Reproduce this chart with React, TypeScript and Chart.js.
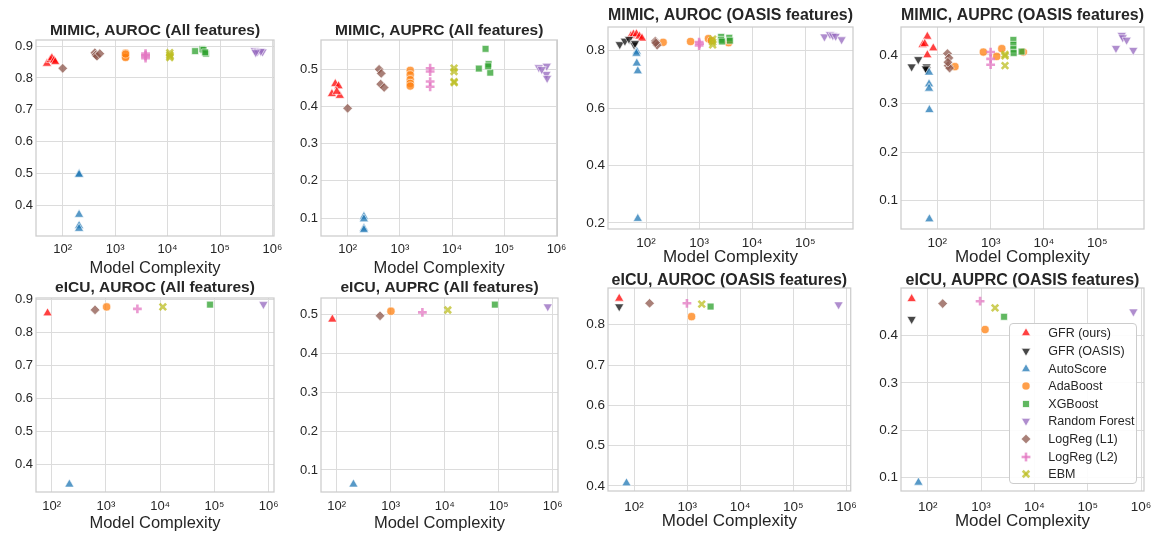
import React, { useEffect, useRef } from 'react';
import { Chart, registerables } from 'chart.js';

Chart.register(...registerables);
Chart.defaults.font.family = '"Liberation Sans", Arial, Helvetica, sans-serif';
Chart.defaults.color = '#262626';

type Pt = [number, number];

// ---------------- categories / tick labels ----------------
const METHODS = ['GFR (ours)', 'GFR (OASIS)', 'AutoScore', 'AdaBoost', 'XGBoost', 'Random Forest', 'LogReg (L1)', 'LogReg (L2)', 'EBM'];
const X_TICKS = [100, 1000, 10000, 100000, 1000000];
const X_TITLE = 'Model Complexity';
const Y_TICKS_P1 = [0.4, 0.5, 0.6, 0.7, 0.8, 0.9];
const Y_TICKS_P2 = [0.1, 0.2, 0.3, 0.4, 0.5];
const Y_TICKS_P3 = [0.2, 0.4, 0.6, 0.8];
const Y_TICKS_P4 = [0.1, 0.2, 0.3, 0.4];
const Y_TICKS_P5 = [0.4, 0.5, 0.6, 0.7, 0.8, 0.9];
const Y_TICKS_P6 = [0.1, 0.2, 0.3, 0.4, 0.5];
const Y_TICKS_P7 = [0.4, 0.5, 0.6, 0.7, 0.8];
const Y_TICKS_P8 = [0.1, 0.2, 0.3, 0.4];

// ---------------- MIMIC, AUROC (All features) ----------------
const P1_GFR: Pt[] = [[50, 0.845], [58, 0.857], [62, 0.862], [68, 0.855], [72, 0.850]];
const P1_AUTO: Pt[] = [[205, 0.500], [205, 0.497], [205, 0.372], [205, 0.337], [205, 0.328]];
const P1_ADA: Pt[] = [[1580, 0.878], [1580, 0.872], [1580, 0.868], [1580, 0.864], [1580, 0.875]];
const P1_XGB: Pt[] = [[33500, 0.884], [46000, 0.890], [48500, 0.888], [54000, 0.876], [52000, 0.880]];
const P1_RF: Pt[] = [[460000, 0.886], [520000, 0.883], [650000, 0.882], [600000, 0.884], [480000, 0.880]];
const P1_L1: Pt[] = [[100, 0.830], [410, 0.879], [430, 0.872], [450, 0.868], [510, 0.876]];
const P1_L2: Pt[] = [[3800, 0.876], [3800, 0.868], [3800, 0.862], [3800, 0.871]];
const P1_EBM: Pt[] = [[11000, 0.879], [11000, 0.872], [11000, 0.864], [11200, 0.868]];

// ---------------- MIMIC, AUPRC (All features) ----------------
const P2_GFR: Pt[] = [[50, 0.434], [58, 0.461], [67, 0.455], [71, 0.429], [62, 0.440]];
const P2_AUTO: Pt[] = [[205, 0.104], [205, 0.097], [205, 0.072], [205, 0.068]];
const P2_ADA: Pt[] = [[1580, 0.497], [1580, 0.485], [1580, 0.472], [1580, 0.462], [1580, 0.455]];
const P2_XGB: Pt[] = [[32500, 0.502], [43700, 0.555], [50000, 0.514], [53800, 0.491], [49000, 0.508]];
const P2_RF: Pt[] = [[458000, 0.505], [650000, 0.509], [640000, 0.487], [660000, 0.476], [520000, 0.500]];
const P2_L1: Pt[] = [[100, 0.395], [400, 0.500], [440, 0.489], [430, 0.460], [500, 0.451]];
const P2_L2: Pt[] = [[3800, 0.503], [3800, 0.494], [3800, 0.467], [3800, 0.453]];
const P2_EBM: Pt[] = [[10900, 0.503], [10900, 0.494], [10900, 0.467], [11000, 0.464]];

// ---------------- MIMIC, AUROC (OASIS features) ----------------
const P3_GFR: Pt[] = [[52, 0.852], [58, 0.857], [66, 0.858], [75, 0.850], [84, 0.843]];
const P3_OASIS: Pt[] = [[32, 0.822], [40, 0.834], [48, 0.840], [60, 0.820], [62, 0.826]];
const P3_AUTO: Pt[] = [[67, 0.797], [66, 0.790], [67, 0.756], [70, 0.729], [70, 0.215]];
const P3_ADA: Pt[] = [[210, 0.829], [690, 0.832], [1500, 0.842], [3600, 0.828], [1700, 0.835]];
const P3_XGB: Pt[] = [[2600, 0.848], [2600, 0.838], [3700, 0.845], [3800, 0.835], [2700, 0.832]];
const P3_RF: Pt[] = [[229000, 0.849], [292000, 0.857], [330000, 0.853], [373000, 0.851], [482000, 0.839]];
const P3_L1: Pt[] = [[150, 0.834], [158, 0.826], [162, 0.819], [152, 0.828]];
const P3_L2: Pt[] = [[1000, 0.830], [1000, 0.818], [1020, 0.824]];
const P3_EBM: Pt[] = [[1800, 0.840], [1800, 0.830], [1800, 0.820]];

// ---------------- MIMIC, AUPRC (OASIS features) ----------------
const P4_GFR: Pt[] = [[65, 0.438], [53, 0.421], [84, 0.414], [65, 0.400], [58, 0.423]];
const P4_OASIS: Pt[] = [[33, 0.376], [44, 0.391], [63, 0.376], [63, 0.370], [61, 0.372]];
const P4_AUTO: Pt[] = [[70, 0.364], [70, 0.340], [70, 0.331], [71, 0.287], [71, 0.062]];
const P4_ADA: Pt[] = [[214, 0.376], [730, 0.406], [1300, 0.397], [1620, 0.413], [4100, 0.406]];
const P4_XGB: Pt[] = [[2670, 0.431], [2670, 0.421], [2670, 0.412], [2700, 0.404], [3800, 0.407]];
const P4_RF: Pt[] = [[224000, 0.414], [288000, 0.441], [300000, 0.436], [355000, 0.431], [473000, 0.410]];
const P4_L1: Pt[] = [[155, 0.403], [165, 0.394], [160, 0.378], [170, 0.373], [158, 0.385]];
const P4_L2: Pt[] = [[1000, 0.406], [1000, 0.392], [1000, 0.380]];
const P4_EBM: Pt[] = [[1860, 0.401], [1860, 0.378], [1860, 0.398]];

// ---------------- eICU, AUROC (All features) ----------------
const P5_GFR: Pt[] = [[84, 0.858]];
const P5_AUTO: Pt[] = [[212, 0.339]];
const P5_ADA: Pt[] = [[1030, 0.877]];
const P5_XGB: Pt[] = [[83000, 0.884]];
const P5_RF: Pt[] = [[800000, 0.885]];
const P5_L1: Pt[] = [[630, 0.868]];
const P5_L2: Pt[] = [[3800, 0.871]];
const P5_EBM: Pt[] = [[11200, 0.877]];

// ---------------- eICU, AUPRC (All features) ----------------
const P6_GFR: Pt[] = [[83, 0.488]];
const P6_AUTO: Pt[] = [[204, 0.063]];
const P6_ADA: Pt[] = [[1010, 0.509]];
const P6_XGB: Pt[] = [[85000, 0.526]];
const P6_RF: Pt[] = [[810000, 0.521]];
const P6_L1: Pt[] = [[635, 0.497]];
const P6_L2: Pt[] = [[3860, 0.506]];
const P6_EBM: Pt[] = [[11400, 0.512]];

// ---------------- eICU, AUROC (OASIS features) ----------------
const P7_GFR: Pt[] = [[52.5, 0.865]];
const P7_OASIS: Pt[] = [[52.5, 0.845]];
const P7_AUTO: Pt[] = [[72, 0.407]];
const P7_ADA: Pt[] = [[1210, 0.820]];
const P7_XGB: Pt[] = [[2760, 0.845]];
const P7_RF: Pt[] = [[710000, 0.850]];
const P7_L1: Pt[] = [[196, 0.853]];
const P7_L2: Pt[] = [[990, 0.853]];
const P7_EBM: Pt[] = [[1880, 0.851]];

// ---------------- eICU, AUPRC (OASIS features) ----------------
const P8_GFR: Pt[] = [[50, 0.478]];
const P8_OASIS: Pt[] = [[50, 0.435]];
const P8_AUTO: Pt[] = [[67, 0.089]];
const P8_ADA: Pt[] = [[1190, 0.413]];
const P8_XGB: Pt[] = [[2700, 0.440]];
const P8_RF: Pt[] = [[720000, 0.451]];
const P8_L1: Pt[] = [[191, 0.468]];
const P8_L2: Pt[] = [[960, 0.473]];
const P8_EBM: Pt[] = [[1830, 0.459]];

// ---------------- panels (built from the arrays above) ----------------
const PANELS = [
  { title: 'MIMIC, AUROC (All features)', yTicks: Y_TICKS_P1, series: [P1_GFR, null, P1_AUTO, P1_ADA, P1_XGB, P1_RF, P1_L1, P1_L2, P1_EBM] },
  { title: 'MIMIC, AUPRC (All features)', yTicks: Y_TICKS_P2, series: [P2_GFR, null, P2_AUTO, P2_ADA, P2_XGB, P2_RF, P2_L1, P2_L2, P2_EBM] },
  { title: 'MIMIC, AUROC (OASIS features)', yTicks: Y_TICKS_P3, series: [P3_GFR, P3_OASIS, P3_AUTO, P3_ADA, P3_XGB, P3_RF, P3_L1, P3_L2, P3_EBM] },
  { title: 'MIMIC, AUPRC (OASIS features)', yTicks: Y_TICKS_P4, series: [P4_GFR, P4_OASIS, P4_AUTO, P4_ADA, P4_XGB, P4_RF, P4_L1, P4_L2, P4_EBM] },
  { title: 'eICU, AUROC (All features)', yTicks: Y_TICKS_P5, series: [P5_GFR, null, P5_AUTO, P5_ADA, P5_XGB, P5_RF, P5_L1, P5_L2, P5_EBM] },
  { title: 'eICU, AUPRC (All features)', yTicks: Y_TICKS_P6, series: [P6_GFR, null, P6_AUTO, P6_ADA, P6_XGB, P6_RF, P6_L1, P6_L2, P6_EBM] },
  { title: 'eICU, AUROC (OASIS features)', yTicks: Y_TICKS_P7, series: [P7_GFR, P7_OASIS, P7_AUTO, P7_ADA, P7_XGB, P7_RF, P7_L1, P7_L2, P7_EBM] },
  { title: 'eICU, AUPRC (OASIS features)', yTicks: Y_TICKS_P8, series: [P8_GFR, P8_OASIS, P8_AUTO, P8_ADA, P8_XGB, P8_RF, P8_L1, P8_L2, P8_EBM] },
];

// ---------------- layout (plot rectangles, axis ranges, fonts) ----------------
const LAYOUTS = [
  { L: 36, T: 40, R: 274, B: 236, rPad: 14, titleY: 31, tickPad: 5.5, xTitleY: 268, fT: 15.5, fK: 13, fX: 16.5, xMin: 1.49, xMax: 6.03, yMin: 0.305, yMax: 0.9188 },
  { L: 321, T: 40, R: 558, B: 236, rPad: 14, titleY: 31, tickPad: 5.5, xTitleY: 268, fT: 15.5, fK: 13, fX: 16.5, xMin: 1.49, xMax: 6.015, yMin: 0.0516, yMax: 0.5788 },
  { L: 608, T: 27, R: 853, B: 229, rPad: 12, titleY: 15.5, tickPad: 6, xTitleY: 258, fT: 16, fK: 13.5, fX: 17, xMin: 1.284, xMax: 5.898, yMin: 0.179, yMax: 0.8825 },
  { L: 901, T: 27, R: 1144, B: 229, rPad: 16, titleY: 15.5, tickPad: 6, xTitleY: 258, fT: 16, fK: 13.5, fX: 17, xMin: 1.319, xMax: 5.876, yMin: 0.0417, yMax: 0.4576 },
  { L: 36, T: 298, R: 274, B: 492, rPad: 14, titleY: 287.7, tickPad: 7, xTitleY: 523, fT: 15.5, fK: 13, fX: 16.5, xMin: 1.711, xMax: 6.098, yMin: 0.316, yMax: 0.904 },
  { L: 321, T: 298, R: 558, B: 492, rPad: 14, titleY: 287.7, tickPad: 7, xTitleY: 523, fT: 15.5, fK: 13, fX: 16.5, xMin: 1.709, xMax: 6.098, yMin: 0.0433, yMax: 0.543 },
  { L: 608, T: 288, R: 853, B: 491, rPad: 12, titleY: 280.7, tickPad: 8, xTitleY: 521.7, fT: 16, fK: 13.5, fX: 17, xMin: 1.509, xMax: 6.08, yMin: 0.3876, yMax: 0.891 },
  { L: 901, T: 288, R: 1144, B: 491, rPad: 16, titleY: 280.7, tickPad: 8, xTitleY: 521.7, fT: 16, fK: 13.5, fX: 17, xMin: 1.499, xMax: 6.056, yMin: 0.071, yMax: 0.501 },
];

const STYLES = [
  { ps: 'triangle', rot: 0, r: 5.3, color: 'rgba(255,0,0,0.75)', line: false },
  { ps: 'triangle', rot: 180, r: 5.3, color: 'rgba(0,0,0,0.72)', line: false },
  { ps: 'triangle', rot: 0, r: 5.3, color: 'rgba(31,119,180,0.75)', line: false },
  { ps: 'circle', rot: 0, r: 4.1, color: 'rgba(255,127,14,0.75)', line: false },
  { ps: 'rect', rot: 0, r: 4.8, color: 'rgba(44,160,44,0.75)', line: false },
  { ps: 'triangle', rot: 180, r: 5.3, color: 'rgba(148,103,189,0.75)', line: false },
  { ps: 'rectRot', rot: 0, r: 4.8, color: 'rgba(140,86,75,0.75)', line: false },
  { ps: 'cross', rot: 0, r: 4.4, color: 'rgba(227,119,194,0.75)', line: true },
  { ps: 'crossRot', rot: 0, r: 4.6, color: 'rgba(188,189,34,0.75)', line: true },
];

const SUP: Record<number, string> = { 1: '\u00B9', 2: '\u00B2', 3: '\u00B3', 4: '\u2074', 5: '\u2075', 6: '\u2076' };
const GRID = '#dcdcdc';
const FRAME = '#cccccc';
const Y_AXIS_W = 36;
const TITLE_LH = 0.8;
const XTITLE_LH = 1.2;

const framePlugin = {
  id: 'frame',
  beforeDatasetsDraw(chart: any) {
    const { ctx, chartArea: a } = chart;
    ctx.save();
    ctx.strokeStyle = FRAME;
    ctx.lineWidth = 1.25;
    ctx.strokeRect(a.left, a.top, a.right - a.left, a.bottom - a.top);
    ctx.restore();
  },
};

function geometry(g: any) {
  const boxH = g.fT * TITLE_LH;
  const cLeft = g.L - Y_AXIS_W;
  const cTop = Math.floor(g.titleY - boxH / 2) - 2;
  const padTop = g.titleY - boxH / 2 - cTop;
  const padBottom = g.T - cTop - padTop - boxH;
  const cRight = g.R + g.rPad;
  const cBottom = Math.round(g.xTitleY + (g.fX * XTITLE_LH) / 2);
  return { cLeft, cTop, W: cRight - cLeft, H: cBottom - cTop, padTop, padBottom, xAxisH: cBottom - g.B };
}

function Panel({ idx }: { idx: number }) {
  const ref = useRef<HTMLCanvasElement | null>(null);
  const p = PANELS[idx];
  const g = LAYOUTS[idx];
  const geo = geometry(g);

  useEffect(() => {
    if (!ref.current) return;
    const xMin = Math.pow(10, g.xMin);
    const xMax = Math.pow(10, g.xMax);
    const datasets: any[] = [];
    p.series.forEach((pts, i) => {
      if (!pts) return;
      const s = STYLES[i];
      datasets.push({
        label: METHODS[i],
        data: pts.map(([x, y]) => ({ x, y })),
        pointStyle: s.ps,
        pointRotation: s.rot,
        pointRadius: s.r,
        pointHoverRadius: s.r,
        backgroundColor: s.color,
        borderColor: s.line ? s.color : 'rgba(255,255,255,0.85)',
        borderWidth: s.line ? 2.6 : 0.7,
        order: 100 - i,
        clip: false,
      });
    });

    const chart = new Chart(ref.current, {
      type: 'scatter',
      data: { datasets },
      options: {
        responsive: false,
        animation: false,
        events: [],
        layout: { padding: { left: 0, right: g.rPad, top: 0, bottom: 0 } },
        plugins: {
          legend: { display: false },
          tooltip: { enabled: false },
          title: {
            display: true,
            text: p.title,
            fullSize: false,
            color: '#262626',
            font: { size: g.fT, weight: 'bold', lineHeight: TITLE_LH },
            padding: { top: geo.padTop, bottom: geo.padBottom },
          },
        },
        scales: {
          x: {
            type: 'logarithmic',
            min: xMin,
            max: xMax,
            afterBuildTicks: (ax: any) => {
              ax.ticks = X_TICKS.filter((v) => v >= xMin && v <= xMax).map((v) => ({ value: v }));
            },
            afterFit: (ax: any) => {
              ax.height = geo.xAxisH;
            },
            ticks: {
              autoSkip: false,
              maxRotation: 0,
              minRotation: 0,
              padding: g.tickPad,
              color: '#262626',
              font: { size: g.fK },
              callback: (v: any) => '10' + SUP[Math.round(Math.log10(Number(v)))],
            },
            grid: { color: GRID, lineWidth: 1, drawTicks: false },
            border: { display: false },
            title: {
              display: true,
              text: X_TITLE,
              color: '#262626',
              font: { size: g.fX, lineHeight: XTITLE_LH },
              padding: 0,
            },
          },
          y: {
            type: 'linear',
            min: g.yMin,
            max: g.yMax,
            afterBuildTicks: (ax: any) => {
              ax.ticks = p.yTicks.map((v) => ({ value: v }));
            },
            afterFit: (ax: any) => {
              ax.width = Y_AXIS_W;
            },
            ticks: {
              padding: 3,
              color: '#262626',
              font: { size: g.fK },
              callback: (v: any) => Number(v).toFixed(1),
            },
            grid: { color: GRID, lineWidth: 1, drawTicks: false },
            border: { display: false },
          },
        },
      } as any,
      plugins: [framePlugin],
    });
    return () => chart.destroy();
  }, []);

  return (
    <canvas
      ref={ref}
      width={geo.W}
      height={geo.H}
      style={{ position: 'absolute', left: geo.cLeft, top: geo.cTop, width: geo.W, height: geo.H }}
    />
  );
}

function LegendMarker({ i }: { i: number }) {
  const s = STYLES[i];
  const c = s.color;
  const r = s.r;
  let el: any = null;
  if (s.ps === 'triangle') {
    const h = r * Math.sin((2 * Math.PI) / 3);
    const pts = s.rot === 180
      ? `0,${r} ${h},${-r / 2} ${-h},${-r / 2}`
      : `0,${-r} ${h},${r / 2} ${-h},${r / 2}`;
    el = <polygon points={pts} fill={c} stroke="white" strokeWidth={0.7} />;
  } else if (s.ps === 'circle') {
    el = <circle cx={0} cy={0} r={r} fill={c} stroke="white" strokeWidth={0.7} />;
  } else if (s.ps === 'rect') {
    const a = r * Math.SQRT1_2;
    el = <rect x={-a} y={-a} width={2 * a} height={2 * a} fill={c} stroke="white" strokeWidth={0.7} />;
  } else if (s.ps === 'rectRot') {
    el = <polygon points={`0,${-r} ${r},0 0,${r} ${-r},0`} fill={c} stroke="white" strokeWidth={0.7} />;
  } else if (s.ps === 'cross') {
    el = (
      <g stroke={c} strokeWidth={2.6}>
        <line x1={-r} y1={0} x2={r} y2={0} />
        <line x1={0} y1={-r} x2={0} y2={r} />
      </g>
    );
  } else {
    const a = r * Math.SQRT1_2;
    el = (
      <g stroke={c} strokeWidth={2.6}>
        <line x1={-a} y1={-a} x2={a} y2={a} />
        <line x1={-a} y1={a} x2={a} y2={-a} />
      </g>
    );
  }
  return (
    <svg width={16} height={16} viewBox="-8 -8 16 16" style={{ display: 'block' }}>
      {el}
    </svg>
  );
}

function Legend() {
  const boxLeft = 1009;
  const boxTop = 323;
  const rowStep = 17.6;
  const firstRow = 10.3;
  return (
    <div
      style={{
        position: 'absolute',
        left: boxLeft,
        top: boxTop,
        width: 128,
        height: 161,
        boxSizing: 'border-box',
        border: '1px solid #cccccc',
        borderRadius: 4,
        background: 'rgba(255,255,255,0.9)',
        fontFamily: '"Liberation Sans", Arial, sans-serif',
        fontSize: 12.5,
        color: '#262626',
      }}
    >
      {METHODS.map((m, i) => {
        const cy = firstRow + rowStep * i - 1;
        return (
          <React.Fragment key={m}>
            <div style={{ position: 'absolute', left: 16.7 - 1 - 8, top: cy - 8 }}>
              <LegendMarker i={i} />
            </div>
            <div
              style={{
                position: 'absolute',
                left: 38.3,
                top: cy - 8,
                height: 16,
                lineHeight: '16px',
                whiteSpace: 'nowrap',
              }}
            >
              {m}
            </div>
          </React.Fragment>
        );
      })}
    </div>
  );
}

export default function App() {
  return (
    <div
      style={{
        position: 'absolute',
        left: 0,
        top: 0,
        width: 1151,
        height: 533,
        overflow: 'hidden',
        background: '#ffffff',
      }}
    >
      {PANELS.map((_, i) => (
        <Panel key={i} idx={i} />
      ))}
      <Legend />
    </div>
  );
}
